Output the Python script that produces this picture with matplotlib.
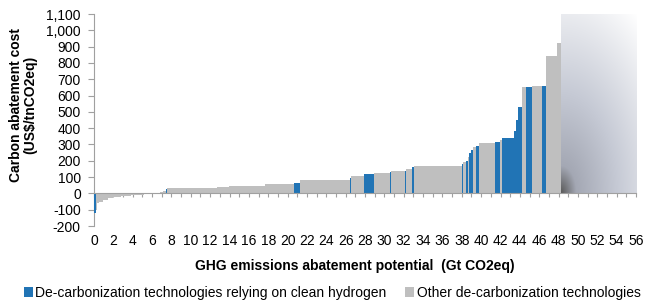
import numpy as np
import matplotlib
matplotlib.use("Agg")
import matplotlib.pyplot as plt
from matplotlib.transforms import blended_transform_factory
from matplotlib.patches import Patch

plt.rcParams['font.family'] = ['Liberation Sans', 'DejaVu Sans']

# ---- data ----
widths = [0.16, 0.15, 0.21, 0.41, 0.52, 0.51, 0.84, 1.05, 1.35, 1.07, 0.53, 0.33, 0.27, 0.14,
          2.46, 2.70, 1.20, 3.80, 1.10, 1.86, 0.64, 3.40, 1.75, 0.15, 1.30, 1.00, 1.65, 0.15,
          1.40, 0.15, 0.65, 0.20, 4.90, 0.15, 0.31, 0.14, 0.14, 0.21, 0.17, 0.34, 0.31, 1.65,
          0.52, 0.26, 1.20, 0.20, 0.20, 0.40, 0.40, 0.65, 1.00, 0.50, 1.10, 0.40]
costs = [-120, -100, -60, -50, -40, -30, -20, -13, -8, -3, 2, 9, 17, 28, 30, 33, 38, 44, 56, 60,
         66, 81, 85, 95, 109, 118, 124, 130, 138, 140, 152, 161, 170, 180, 192, 200, 225, 246,
         267, 287, 293, 312, 314, 325, 342, 383, 451, 531, 651, 651, 657, 660, 843, 921]
hydrogen = [1, 0, 0, 0, 0, 0, 0, 0, 0, 0, 0, 0, 0, 1, 0, 0, 0, 0, 0, 0, 1, 0, 0, 1, 0, 1, 0, 1,
            0, 1, 0, 1, 0, 1, 0, 1, 0, 1, 1, 0, 1, 0, 1, 0, 1, 1, 1, 1, 0, 1, 0, 1, 0, 0]
unexplored_start = 48.25
unexplored_end = 56.0
y_ticks = list(range(-200, 1101, 100))
x_ticks = list(range(0, 57, 1))
x_labels = list(range(0, 57, 2))
series_names = ["De-carbonization technologies relying on clean hydrogen",
                "Other de-carbonization technologies"]

BLUE = "#2174b5"
GRAY = "#bfbfbf"
FS = 10

fig = plt.figure(figsize=(6.47, 3.03), dpi=100)
ax = fig.add_axes([94/647, 1-226/303, (636-94)/647, (226-14)/303])

lefts = np.concatenate([[0], np.cumsum(widths)[:-1]])
colors = [BLUE if h else GRAY for h in hydrogen]
ax.bar(lefts, costs, width=widths, align='edge', color=colors, edgecolor='none', linewidth=0, zorder=2)

# gradient region (unexplored potential)
n = 200
u = np.linspace(0, 1, n)
v = np.linspace(0, 1, n)
U, V = np.meshgrid(u, v)
d = np.sqrt((U*0.75)**2 + V**2) / np.sqrt(0.75**2 + 1)
stops = [0.0, 0.12, 0.45, 1.0]
cols = np.array([[0x5a, 0x5a, 0x5a], [0xa4, 0xa8, 0xb4], [0xc6, 0xca, 0xd5], [0xff, 0xff, 0xff]]) / 255.0
img = np.zeros((n, n, 3))
for c in range(3):
    img[..., c] = np.interp(d, stops, cols[:, c])
ax.imshow(img, extent=[unexplored_start, unexplored_end, 0, 1100], origin='lower', aspect='auto', zorder=1)

ax.set_xlim(0, 56)
ax.set_ylim(-200, 1100)

for s in ['top', 'right']:
    ax.spines[s].set_visible(False)
ax.spines['left'].set_color('#a0a0a0')
ax.spines['left'].set_zorder(1.5)
ax.spines['bottom'].set_color('#a0a0a0')
ax.spines['bottom'].set_position(('data', 0))
ax.spines['bottom'].set_zorder(3)

ax.set_yticks(y_ticks)
ax.set_yticklabels([f"{t:,}" for t in y_ticks], fontsize=FS)
ax.tick_params(axis='y', direction='out', length=4.5, color='#a0a0a0', pad=5)
ax.set_xticks(x_ticks)
ax.tick_params(axis='x', direction='out', length=3, color='#a0a0a0', labelbottom=False)

trans = blended_transform_factory(ax.transData, ax.transAxes)
for xl in x_labels:
    ax.text(xl, -0.04, str(xl), transform=trans, ha='center', va='top', fontsize=FS)

fig.text(23/647, 1-105/303, "Carbon abatement cost\n(US$/tnCO2eq)", rotation=90,
         ha='center', va='center', fontsize=FS, fontweight='bold', linespacing=1.05)
fig.text(355/647, 1-266/303, "GHG emissions abatement potential  (Gt CO2eq)",
         ha='center', va='center', fontsize=FS, fontweight='bold')

handles = [Patch(facecolor=BLUE, edgecolor='none'), Patch(facecolor=GRAY, edgecolor='none')]
fig.legend(handles, series_names, loc='center', bbox_to_anchor=(332/647, 1-293/303), ncol=2,
           frameon=False, fontsize=FS, handlelength=0.65, handleheight=0.65, handletextpad=0.2,
           columnspacing=1.3, borderaxespad=0, borderpad=0)

fig.savefig("out.png", dpi=100)
